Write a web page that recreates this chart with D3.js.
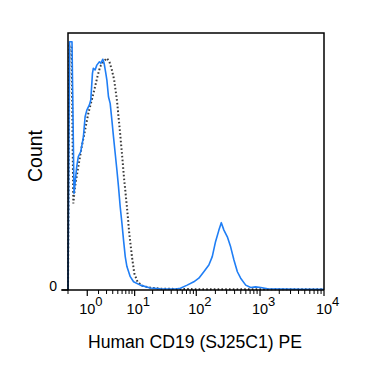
<!DOCTYPE html>
<html><head><meta charset="utf-8">
<script src="https://cdn.jsdelivr.net/npm/d3@7"></script>
<style>body{margin:0;background:#fff}svg{display:block}</style>
</head><body>
<script>
// Fluorescence values (PE) and normalized counts
const stainedX = [0,0.056,0.155,0.176,0.242,0.369,0.45,0.58,0.74,0.85,0.97,1.16,1.27,1.41,1.49,1.65,1.82,2.10,2.26,2.50,2.67,2.90,3.05,3.29,3.56,3.85,4.14,4.46,4.81,5.15,5.54,5.96,6.37,6.84,7.33,8.39,9.58,12.5,18.3,26.7,38.8,50,56,71.8,91.4,109.7,131.6,157.8,178.5,201,227,247.5,272,307.7,346.6,390.6,442,498,597,715,850,1026,1308,2116,4354,9999];
const stainedY = [0,96.6,96.6,81.7,37.6,48.0,51.9,53.8,59.6,67.4,70.0,72.0,73.9,84.3,86.3,85.6,87.5,88.8,88.2,89.8,88.2,84.3,81.7,75.2,72.6,66.1,59.6,53.2,46.7,40.2,32.4,26.0,19.5,13.0,9.1,5.2,3.2,1.9,0.8,0.5,0.4,0.5,0.7,1.9,3.2,4.6,7.1,9.7,13.0,18.8,23.3,26.2,23.3,20.7,16.8,11.7,7.1,4.6,1.9,1.0,1.2,1.0,0.5,0.4,0.3,0.3];
const isotypeX = [0,0.056,0.135,0.211,0.288,0.45,0.64,0.85,1.08,1.35,1.65,1.88,2.18,2.58,3.05,3.44,3.85,4.27,4.81,5.38,5.96,6.56,7.33,8.06,8.98,9.85,11.2,13.3,17.2,26.7,117,9999];
const isotypeY = [0,95,95,33.7,40.2,48.0,55.8,62.3,68.8,73.9,79.1,83.0,86.9,88.8,90.2,88.8,85.6,81.7,73.9,63.5,53.2,42.8,32.4,22.1,13.0,6.5,3.2,1.7,1.0,0.5,0.3,0.3];
const majorTicks = [1,10,100,1000,10000];
const tickExponents = ["0","1","2","3","4"];
const xLabel = "Human CD19 (SJ25C1) PE";
const yLabel = "Count";

const W = 382, H = 382;
const m = {left:68, top:33, right:324, bottom:290};
const svg = d3.select("body").append("svg").attr("width",W).attr("height",H);
const x = d3.scaleSymlog().constant(1).domain([0,10000]).range([m.left,m.right]);
const y = d3.scaleLinear().domain([0,100]).range([m.bottom,m.top]);

const line = d3.line().x(d=>x(d[0])).y(d=>y(d[1]));
const font = "'Liberation Sans', Arial, sans-serif";

// series
svg.append("path").datum(isotypeX.map((v,i)=>[v,isotypeY[i]]))
  .attr("d",line).attr("fill","none").attr("stroke","#3a3a3a")
  .attr("stroke-width",2).attr("stroke-dasharray","1.6,2.2");
svg.append("path").datum(stainedX.map((v,i)=>[v,stainedY[i]]))
  .attr("d",line).attr("fill","none").attr("stroke","#1f7ef5")
  .attr("stroke-width",1.6).attr("stroke-linejoin","round");

// frame
svg.append("path").attr("d",`M${m.left},${m.bottom}V${m.top}H${m.right}V${m.bottom}`)
  .attr("fill","none").attr("stroke","#000").attr("stroke-width",1.5);

// x axis
const minor = [];
[1,10,100,1000].forEach(d=>{for(let k=2;k<=9;k++) minor.push(d*k);});
minor.push(0);
const xAxis = svg.append("g");
xAxis.append("line").attr("x1",m.left-6).attr("x2",m.right).attr("y1",m.bottom).attr("y2",m.bottom)
  .attr("stroke","#000").attr("stroke-width",1.5);
xAxis.selectAll(".mn").data(minor).join("line")
  .attr("x1",d=>x(d)).attr("x2",d=>x(d)).attr("y1",m.bottom).attr("y2",m.bottom+4)
  .attr("stroke","#000").attr("stroke-width",1);
xAxis.selectAll(".mj").data(majorTicks).join("line")
  .attr("x1",d=>x(d)).attr("x2",d=>x(d)).attr("y1",m.bottom).attr("y2",m.bottom+6)
  .attr("stroke","#000").attr("stroke-width",1.2);
xAxis.selectAll(".lb").data(majorTicks).join("text")
  .attr("x",d=>x(d)).attr("y",314).attr("text-anchor","middle")
  .attr("font-family",font).attr("font-size",14.5).attr("fill","#000").text("10");
xAxis.selectAll(".ex").data(majorTicks).join("text")
  .attr("x",d=>x(d)+8).attr("y",306).attr("text-anchor","start")
  .attr("font-family",font).attr("font-size",13).attr("fill","#000")
  .text((d,i)=>tickExponents[i]);

// y axis
svg.append("line").attr("x1",m.left-7).attr("x2",m.left).attr("y1",y(0)).attr("y2",y(0))
  .attr("stroke","#000").attr("stroke-width",1.2);
svg.append("text").attr("x",57).attr("y",y(0)+1).attr("text-anchor","end")
  .attr("font-family",font).attr("font-size",14).attr("fill","#000").text("0");

// labels
svg.append("text").attr("x",195).attr("y",348).attr("text-anchor","middle")
  .attr("font-family",font).attr("font-size",17.6).attr("fill","#000").text(xLabel);
svg.append("text").attr("transform","translate(42,156) rotate(-90)").attr("text-anchor","middle")
  .attr("font-family",font).attr("font-size",19.5).attr("fill","#000").text(yLabel);
</script>
</body></html>
